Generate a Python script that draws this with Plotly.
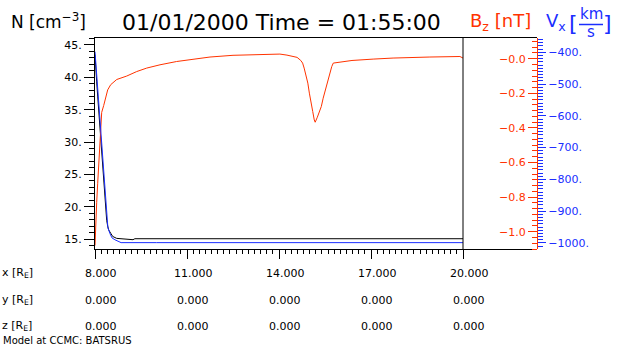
import numpy as np
import plotly.graph_objects as go

# ---------------- data ----------------
# density N [cm^-3] along the x line
n_x = [8.0, 8.02, 8.055, 8.088, 8.12, 8.153, 8.186, 8.218, 8.251, 8.284, 8.316, 8.349,
       8.381, 8.414, 8.447, 8.512, 8.577, 8.708, 8.9, 9.04, 9.24, 9.3, 10.0, 12.0, 14.0,
       16.0, 18.0, 20.0]
n_vals = [43.5, 41.0, 39.3, 37.1, 35.0, 32.6, 30.8, 28.3, 26.5, 24.1, 21.4, 19.3,
          17.9, 17.0, 16.4, 15.9, 15.4, 15.1, 15.05, 14.9, 14.9, 15.05, 15.05, 15.05, 15.05,
          15.05, 15.05, 15.05]

# Bz [nT]
bz_x = [8.0, 8.02, 8.055, 8.088, 8.12, 8.153, 8.186, 8.218, 8.284, 8.349, 8.414, 8.512,
        8.708, 9.034, 9.36, 9.686, 10.12, 10.66, 11.10, 11.75, 12.5, 13.38, 14.03, 14.26,
        14.42, 14.59, 14.71, 14.77, 14.82, 14.88, 14.94, 14.99, 15.04, 15.10, 15.15, 15.18,
        15.25, 15.31, 15.38, 15.44, 15.51, 15.57, 15.64, 15.72, 15.77, 15.99, 16.38, 17.07,
        17.72, 18.92, 19.58, 19.90, 20.0]
bz_vals = [-1.08, -0.96, -0.83, -0.72, -0.60, -0.475, -0.37, -0.31, -0.27, -0.22, -0.18, -0.15,
           -0.12, -0.10, -0.074, -0.054, -0.035, -0.016, -0.006, 0.01, 0.02, 0.024, 0.027, 0.021,
           0.016, 0.008, -0.01, -0.025, -0.054, -0.093, -0.141, -0.199, -0.257, -0.305, -0.354, -0.367,
           -0.338, -0.311, -0.276, -0.228, -0.18, -0.132, -0.083, -0.045, -0.025, -0.019, -0.01, -0.002,
           0.004, 0.01, 0.013, 0.013, 0.004]

# Vx [km/s]
vx_x = [8.0, 8.03, 8.065, 8.098, 8.13, 8.163, 8.196, 8.228, 8.26, 8.293, 8.326, 8.36,
        8.39, 8.42, 8.49, 8.554, 8.65, 8.85, 10.0, 12.0, 14.0, 16.0, 18.0, 20.0]
vx_vals = [-398, -440, -471, -519, -575, -619, -663, -707, -754, -802, -852, -896,
           -927, -952, -971, -984, -990, -999, -999, -999, -999, -999, -999, -999]

# tick labels / table
x_ticks = [8, 11, 14, 17, 20]
pos_x = [8.0, 11.0, 14.0, 17.0, 20.0]
pos_y = [0.0, 0.0, 0.0, 0.0, 0.0]
pos_z = [0.0, 0.0, 0.0, 0.0, 0.0]
n_ticks = [15, 20, 25, 30, 35, 40, 45]
n_ticktext = ["15.", "20.", "25.", "30.", "35.", "40.", "45."]
bz_ticks = [0.0, -0.2, -0.4, -0.6, -0.8, -1.0]
bz_ticktext = ["\u22120.0", "\u22120.2", "\u22120.4", "\u22120.6", "\u22120.8", "\u22121.0"]
vx_ticks = [-400, -500, -600, -700, -800, -900, -1000]
vx_ticktext = ["\u2212400.", "\u2212500.", "\u2212600.", "\u2212700.", "\u2212800.", "\u2212900.", "\u22121000."]

RED = "#ff3300"
BLUE = "#1a2eff"
FONT = "DejaVu Sans"

# ---------------- layout geometry ----------------
W, H = 630, 350
ML, MR, MT, MB = 95, 93, 38, 101
PW = W - ML - MR   # 442
PH = H - MT - MB   # 211
DATA_W = 368       # pixel width of the x data range 8..20
x_range = [8, 8 + 12 * PW / DATA_W]


def px(xp):
    return (xp - ML) / PW


def py(yp):
    return (H - MB - yp) / PH


fig = go.Figure()
fig.add_trace(go.Scatter(x=n_x, y=n_vals, mode="lines", line=dict(color="black", width=1),
                         yaxis="y", hoverinfo="skip"))
fig.add_trace(go.Scatter(x=bz_x, y=bz_vals, mode="lines", line=dict(color=RED, width=1),
                         yaxis="y2", hoverinfo="skip"))
fig.add_trace(go.Scatter(x=vx_x, y=vx_vals, mode="lines", line=dict(color=BLUE, width=1),
                         yaxis="y3", hoverinfo="skip"))

minor_x = [round(v, 3) for v in np.arange(8, 20.0001, 0.2)]

fig.update_layout(
    width=W, height=H,
    margin=dict(l=ML, r=MR, t=MT, b=MB, pad=0),
    paper_bgcolor="white", plot_bgcolor="white",
    showlegend=False,
    font=dict(family=FONT, color="black", size=11),
    xaxis=dict(domain=[0, 1], range=x_range, showgrid=False, zeroline=False,
               showline=True, linecolor="black", linewidth=1, mirror=True,
               ticks="outside", ticklen=9, tickwidth=1, tickcolor="black",
               tickmode="array", tickvals=x_ticks, showticklabels=False,
               minor=dict(tickmode="array", tickvals=minor_x, ticks="outside",
                          ticklen=4, tickwidth=1, tickcolor="black")),
    yaxis=dict(range=[13.46, 46.08], showgrid=False, zeroline=False,
               showline=True, linecolor="black", linewidth=1,
               ticks="outside", ticklen=10, tickwidth=1, tickcolor="black",
               tickmode="array", tickvals=n_ticks, ticktext=n_ticktext,
               tickfont=dict(size=11, color="black"),
               minor=dict(dtick=1, tick0=0, ticks="outside", ticklen=5,
                          tickwidth=1, tickcolor="black")),
    yaxis2=dict(overlaying="y", anchor="free", position=1, side="left",
                range=[-1.10, 0.12], showgrid=False, zeroline=False,
                showline=True, linecolor=RED, linewidth=1,
                ticks="outside", ticklen=9, tickwidth=1, tickcolor=RED,
                tickmode="array", tickvals=bz_ticks, ticktext=bz_ticktext,
                tickfont=dict(size=11, color=RED),
                minor=dict(dtick=1 / 30, tick0=0, ticks="outside", ticklen=5,
                           tickwidth=1, tickcolor=RED)),
    yaxis3=dict(overlaying="y", anchor="free", position=1, side="right",
                range=[-1019, -355], showgrid=False, zeroline=False,
                showline=False,
                ticks="outside", ticklen=8, tickwidth=1, tickcolor=BLUE,
                tickmode="array", tickvals=vx_ticks, ticktext=vx_ticktext,
                tickfont=dict(size=11, color=BLUE),
                minor=dict(dtick=10, tick0=0, ticks="outside", ticklen=5,
                           tickwidth=1, tickcolor=BLUE)),
)

# vertical frame line at the end of the data range
fig.add_shape(type="line", xref="x", yref="paper", x0=x_ticks[-1], x1=x_ticks[-1],
              y0=0, y1=1, line=dict(color="black", width=1))

ann = []


def A(text, x, y, size, color="black", xanchor="left", yanchor="middle", xref="paper", xshift=0):
    ann.append(dict(text=text, x=x, y=y, xref=xref, yref="paper", showarrow=False,
                    xanchor=xanchor, yanchor=yanchor, xshift=xshift,
                    font=dict(family=FONT, size=size, color=color)))


# header
A("N [cm<sup>\u22123</sup>]", px(9), py(21), 17)
A("01/01/2000 Time = 01:55:00", px(281), py(22.5), 22, xanchor="center")
A("B<sub>z</sub> [nT]", px(468), py(21.5), 18, color=RED)
A("V<sub>x</sub>", px(544), py(21.5), 18, color=BLUE)
A("[", px(573), py(23), 22, color=BLUE, xanchor="center")
A("km", px(591), py(14), 15, color=BLUE, xanchor="center")
A("s", px(591), py(32), 15, color=BLUE, xanchor="center")
A("]", px(607.5), py(23), 22, color=BLUE, xanchor="center")
fig.add_shape(type="line", xref="paper", yref="paper", x0=px(579), x1=px(603),
              y0=py(24.5), y1=py(24.5), line=dict(color=BLUE, width=1.5))

# position table
rows = [("x [R<sub>E</sub>]", pos_x, 273), ("y [R<sub>E</sub>]", pos_y, 300),
        ("z [R<sub>E</sub>]", pos_z, 326)]
for label, vals, yp in rows:
    A(label, px(0), py(yp), 11)
    for xt, v in zip(x_ticks, vals):
        A(f"{v:.3f}", xt, py(yp), 11, xanchor="center", xref="x", xshift=6)
A("Model at CCMC: BATSRUS", px(1), py(340), 10)

fig.update_layout(annotations=ann)
fig.write_html("out.html")
